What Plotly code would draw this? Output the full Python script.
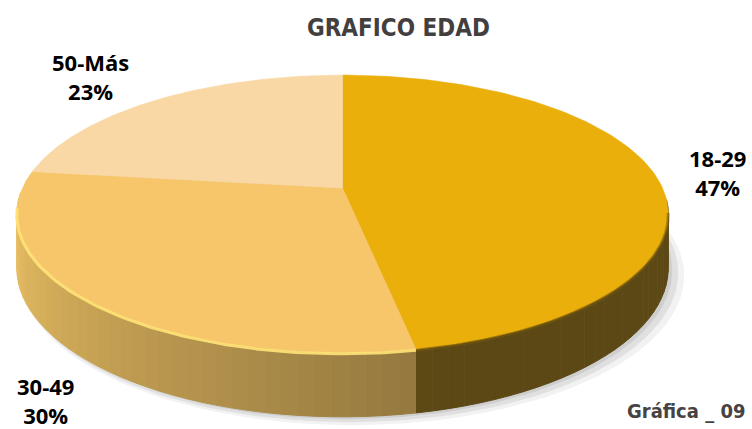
import numpy as np
import plotly.graph_objects as go

# ---- data ----
categories = ["18-29", "30-49", "50-Más"]
values = [47, 30, 23]
top_colors = ["#EAAF0B", "#F7C66B", "#F9D8A6"]
side_rgb = [(152, 120, 34), (240, 196, 102), (246, 212, 152)]
title_text = "GRAFICO EDAD"
footer_text = "Gráfica _ 09"

# ---- geometry (pixel space of a 752x429 canvas) ----
W, H = 752, 429
cx, cy = 342.5, 188.0
rx, ry, k, h0 = 320.0, 134.0, 0.187, 52.0


def proj(theta, z=0.0):
    u = np.sin(theta)
    v = -np.cos(theta)
    s = 1.0 / (1.0 - k * v)
    return cx + rx * u * s, cy + (ry * v + z) * s


def shade(theta):
    d = np.degrees(theta)
    if d >= 265:
        return 1.0
    if d <= 165:
        return 0.6
    return 0.6 + 0.4 * (d - 165) / 100.0


total = float(sum(values))
bounds = np.concatenate([[0.0], np.cumsum(values) / total * 2 * np.pi])

fig = go.Figure()

# soft shadow
for off, alpha, grow in [(10, 0.05, 6), (7, 0.07, 3), (4, 0.08, 0)]:
    tt = np.linspace(0, 2 * np.pi, 200)
    xe, ye = proj(tt, h0)
    fig.add_trace(go.Scatter(x=xe + off + grow * np.sin(tt), y=ye + off * 0.6 + grow * 0.4,
                             fill="toself", mode="lines", line=dict(width=0),
                             fillcolor=f"rgba(0,0,0,{alpha})", hoverinfo="skip",
                             showlegend=False))

# side wall strips
visible_lo, visible_hi = np.radians(95), np.radians(268)
step = np.radians(2.5)
strips = []
for i in range(len(values)):
    a0, a1 = max(bounds[i], visible_lo), min(bounds[i + 1], visible_hi)
    if a1 <= a0:
        continue
    n = max(1, int(np.ceil((a1 - a0) / step)))
    edges = np.linspace(a0, a1, n + 1)
    for j in range(n):
        strips.append((i, edges[j], edges[j + 1]))
strips.sort(key=lambda s: -abs(np.pi - 0.5 * (s[1] + s[2])))
for i, t0, t1 in strips:
    tt = np.linspace(t0, t1, 4)
    xt, yt = proj(tt, 0.0)
    xb, yb = proj(tt[::-1], h0)
    f = shade(0.5 * (t0 + t1))
    r, g, b = [int(c * f) for c in side_rgb[i]]
    col = f"rgb({r},{g},{b})"
    fig.add_trace(go.Scatter(x=np.concatenate([xt, xb]), y=np.concatenate([yt, yb]),
                             fill="toself", mode="lines", line=dict(width=1, color=col),
                             fillcolor=col, hoverinfo="skip", showlegend=False))

# top faces
for i in range(len(values)):
    tt = np.linspace(bounds[i], bounds[i + 1], 120)
    xr, yr = proj(tt, 0.0)
    xs = np.concatenate([[cx], xr, [cx]])
    ys = np.concatenate([[cy], yr, [cy]])
    fig.add_trace(go.Scatter(x=xs, y=ys, fill="toself", mode="lines",
                             line=dict(width=0.6, color=top_colors[i]),
                             fillcolor=top_colors[i], name=categories[i],
                             hoverinfo="name", showlegend=False))

# rim bevel on the front edge
for i, hl in [(0, "rgba(120,90,10,0.55)"), (1, "rgba(255,228,120,0.9)")]:
    a0, a1 = max(bounds[i], np.radians(100)), min(bounds[i + 1], np.radians(262))
    if a1 > a0:
        tt = np.linspace(a0, a1, 80)
        xr, yr = proj(tt, 0.0)
        fig.add_trace(go.Scatter(x=xr, y=yr + 1, mode="lines",
                                 line=dict(width=3, color=hl),
                                 hoverinfo="skip", showlegend=False))

label_pos = [(717, 172), (45, 400), (90, 76)]
annotations = []
for (lx, ly), c, v in zip(label_pos, categories, values):
    annotations.append(dict(x=lx, y=ly, xref="x", yref="y", showarrow=False,
                            text=f"<b>{c}<br>{v}%</b>", align="center",
                            font=dict(family="Open Sans", size=22, color="#000000")))
cond = "DejaVu Sans Condensed, Liberation Sans Narrow, Arial Narrow, sans-serif"
annotations.append(dict(x=398, y=28, xref="x", yref="y", showarrow=False,
                        text=f"<b>{title_text}</b>",
                        font=dict(family=cond, size=24, color="#433F3F")))
annotations.append(dict(x=686, y=411, xref="x", yref="y", showarrow=False,
                        text=f"<b>{footer_text}</b>",
                        font=dict(family=cond, size=20, color="#474343")))

fig.update_layout(
    width=W, height=H,
    margin=dict(l=0, r=0, t=0, b=0),
    paper_bgcolor="white", plot_bgcolor="white",
    xaxis=dict(range=[0, W], visible=False, fixedrange=True),
    yaxis=dict(range=[H, 0], visible=False, fixedrange=True),
    annotations=annotations,
)

fig.write_html("out.html", config={"displayModeBar": False},
               post_script="document.body.style.margin='0';document.body.style.overflow='hidden';")
